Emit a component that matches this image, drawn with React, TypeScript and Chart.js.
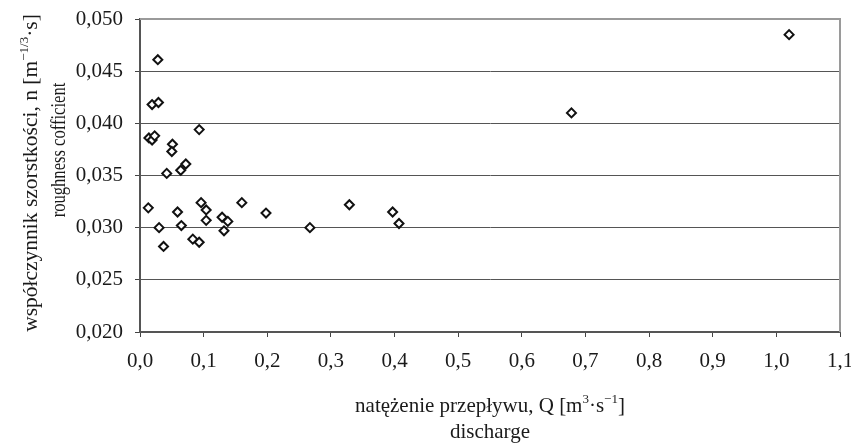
import React, { useEffect, useRef } from 'react';
import { Chart, registerables } from 'chart.js';

Chart.register(...registerables);

// discharge Q [m3/s]
const Q = [
  0.028, 0.019, 0.029, 0.014, 0.019, 0.023, 0.093, 0.051, 0.050, 0.072, 0.064,
  0.042, 0.013, 0.096, 0.104, 0.059, 0.160, 0.198, 0.329, 0.129, 0.138, 0.132,
  0.104, 0.065, 0.030, 0.267, 0.037, 0.083, 0.093, 0.397, 0.407, 0.678, 1.020,
];
// roughness coefficient n
const N = [
  0.0461, 0.0418, 0.0420, 0.0386, 0.0384, 0.0388, 0.0394, 0.0380, 0.0373, 0.0361, 0.0355,
  0.0352, 0.0319, 0.0324, 0.0317, 0.0315, 0.0324, 0.0314, 0.0322, 0.0310, 0.0306, 0.0297,
  0.0307, 0.0302, 0.0300, 0.0300, 0.0282, 0.0289, 0.0286, 0.0315, 0.0304, 0.0410, 0.0485,
];

const X_MIN = 0;
const X_MAX = 1.1;
const X_STEP = 0.1;
const Y_MIN = 0.02;
const Y_MAX = 0.05;
const Y_STEP = 0.005;

type Seg = { t: string; sup?: boolean };
const X_TITLE: Seg[] = [
  { t: 'natężenie przepływu, Q [m' },
  { t: '3', sup: true },
  { t: '·s' },
  { t: '−1', sup: true },
  { t: ']' },
];
const X_SUBTITLE = 'discharge';
const Y_TITLE: Seg[] = [
  { t: 'współczynnik szorstkości, n [m' },
  { t: '−1/3', sup: true },
  { t: '·s]' },
];
const Y_SUBTITLE = 'roughness cofficient';

const FONT = '"Liberation Serif", "Times New Roman", serif';
const TEXT = '#1a1a1a';

function drawRich(ctx: CanvasRenderingContext2D, segs: Seg[], cx: number, base: number, size: number) {
  const main = `${size}px ${FONT}`;
  const sup = `${Math.round(size * 0.62)}px ${FONT}`;
  let total = 0;
  for (const s of segs) {
    ctx.font = s.sup ? sup : main;
    total += ctx.measureText(s.t).width;
  }
  let x = cx - total / 2;
  ctx.textAlign = 'left';
  ctx.textBaseline = 'alphabetic';
  for (const s of segs) {
    ctx.font = s.sup ? sup : main;
    ctx.fillText(s.t, x, s.sup ? base - size * 0.42 : base);
    x += ctx.measureText(s.t).width;
  }
}

const titlesPlugin = {
  id: 'customTitles',
  afterDraw(chart: any) {
    const ctx: CanvasRenderingContext2D = chart.ctx;
    const a = chart.chartArea;
    ctx.save();
    // frame: top and right in light gray
    ctx.strokeStyle = '#9a9a9a';
    ctx.lineWidth = 2;
    ctx.beginPath();
    ctx.moveTo(a.left, a.top);
    ctx.lineTo(a.right, a.top);
    ctx.lineTo(a.right, a.bottom);
    ctx.stroke();

    ctx.fillStyle = TEXT;
    const cx = (a.left + a.right) / 2;
    drawRich(ctx, X_TITLE, cx, 412, 21);
    drawRich(ctx, [{ t: X_SUBTITLE }], cx, 438, 21);

    ctx.save();
    ctx.translate(37, 173);
    ctx.rotate(-Math.PI / 2);
    drawRich(ctx, Y_TITLE, 0, 0, 21.5);
    ctx.restore();

    ctx.save();
    ctx.translate(65, 150);
    ctx.rotate(-Math.PI / 2);
    ctx.scale(0.79, 1);
    drawRich(ctx, [{ t: Y_SUBTITLE }], 0, 0, 21);
    ctx.restore();

    ctx.restore();
  },
};

export default function App() {
  const ref = useRef<HTMLCanvasElement>(null);

  useEffect(() => {
    if (!ref.current) return;
    const points = Q.map((q, i) => ({ x: q, y: N[i] }));
    const chart = new Chart(ref.current, {
      type: 'scatter',
      data: {
        datasets: [
          {
            data: points,
            pointStyle: 'rectRot',
            pointRadius: 4.5,
            pointBorderWidth: 2,
            pointBorderColor: '#111',
            pointBackgroundColor: '#fff',
            showLine: false,
          },
        ],
      },
      options: {
        animation: false,
        responsive: true,
        maintainAspectRatio: false,
        layout: { padding: { top: 19, right: 11, left: 0, bottom: 0 } },
        plugins: {
          legend: { display: false },
          tooltip: { enabled: false },
          title: { display: false },
        },
        scales: {
          x: {
            type: 'linear',
            min: X_MIN,
            max: X_MAX,
            afterFit: (s: any) => {
              s.height = 111;
              s.paddingLeft = 0;
              s.paddingRight = 0;
              s.paddingTop = 0;
              s.paddingBottom = 0;
            },
            ticks: {
              stepSize: X_STEP,
              color: TEXT,
              font: { family: FONT, size: 21 },
              padding: 12,
              maxRotation: 0,
              autoSkip: false,
              callback: (v: any) => Number(v).toFixed(1).replace('.', ','),
            },
            grid: {
              drawOnChartArea: false,
              drawTicks: true,
              tickLength: 5,
              tickColor: '#444',
              tickWidth: 1,
            },
            border: { display: true, color: '#555', width: 2 },
          },
          y: {
            type: 'linear',
            min: Y_MIN,
            max: Y_MAX,
            afterFit: (s: any) => {
              s.width = 140;
              s.paddingLeft = 0;
              s.paddingRight = 0;
              s.paddingTop = 0;
              s.paddingBottom = 0;
            },
            ticks: {
              stepSize: Y_STEP,
              color: TEXT,
              font: { family: FONT, size: 21 },
              padding: 12,
              callback: (v: any) => Number(v).toFixed(3).replace('.', ','),
            },
            grid: {
              color: '#555',
              lineWidth: 1,
              drawTicks: true,
              tickLength: 5,
              tickColor: '#444',
            },
            border: { display: true, color: '#555', width: 2 },
          },
        },
      },
      plugins: [titlesPlugin],
    });
    return () => chart.destroy();
  }, []);

  return (
    <div style={{ position: 'fixed', left: 0, top: 0, width: 851, height: 443, background: '#fff' }}>
      <canvas ref={ref} />
    </div>
  );
}
